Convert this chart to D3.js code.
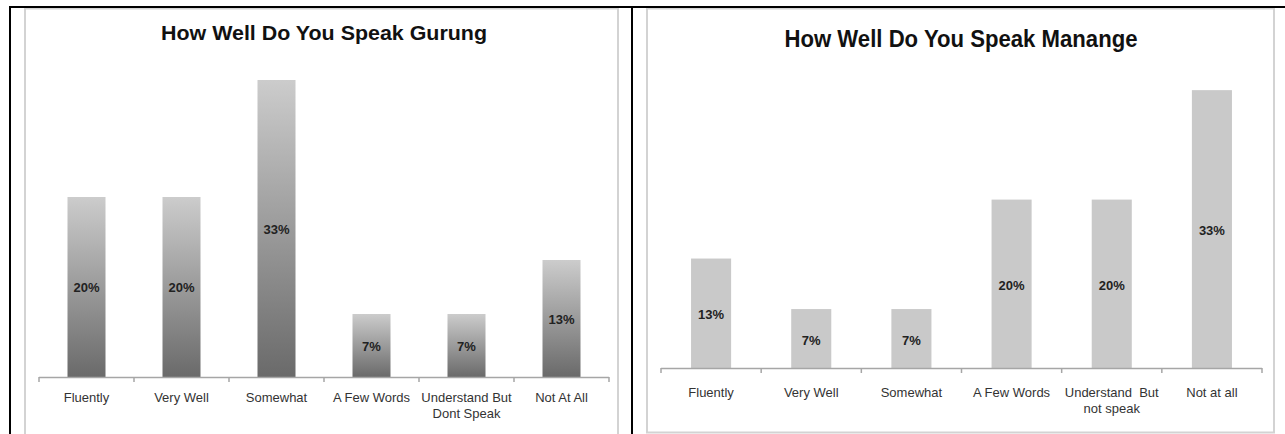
<!DOCTYPE html>
<html>
<head>
<meta charset="utf-8">
<script src="https://cdn.jsdelivr.net/npm/d3@7"></script>
<style>
  html, body { margin: 0; padding: 0; background: #fff; }
  svg { display: block; }
  text { font-family: Arial, "Liberation Sans", sans-serif; }
</style>
</head>
<body>
<svg id="chart" width="1285" height="434"></svg>
<script>
// ---- Data ----
const titleGurung = "How Well Do You Speak Gurung";
const categoriesGurung = ["Fluently", "Very Well", "Somewhat", "A Few Words", "Understand But\nDont Speak", "Not At All"];
const valuesGurung = [20, 20, 33, 7, 7, 13];
const labelsGurung = ["20%", "20%", "33%", "7%", "7%", "13%"];

const titleManange = "How Well Do You Speak Manange";
const categoriesManange = ["Fluently", "Very Well", "Somewhat", "A Few Words", "Understand  But\nnot speak", "Not at all"];
const valuesManange = [13, 7, 7, 20, 20, 33];
const labelsManange = ["13%", "7%", "7%", "20%", "20%", "33%"];

const yMax = 35;

// ---- Drawing ----
const svg = d3.select("#chart");
svg.append("rect").attr("width", 1285).attr("height", 434).attr("fill", "#fff");

const defs = svg.append("defs");
const grad = defs.append("linearGradient").attr("id", "barGrad")
  .attr("x1", 0).attr("y1", 0).attr("x2", 0).attr("y2", 1);
grad.append("stop").attr("offset", "0%").attr("stop-color", "#cccccc");
grad.append("stop").attr("offset", "100%").attr("stop-color", "#6a6a6a");

// Chart frames (light gray)
svg.append("rect").attr("x", 25).attr("y", 8.5).attr("width", 593).attr("height", 440)
  .attr("fill", "none").attr("stroke", "#d3d3d3").attr("stroke-width", 2);
svg.append("rect").attr("x", 647).attr("y", 8.5).attr("width", 627).attr("height", 424)
  .attr("fill", "none").attr("stroke", "#d3d3d3").attr("stroke-width", 2);

// Black table borders
svg.append("line").attr("x1", 9).attr("x2", 1285).attr("y1", 7).attr("y2", 7)
  .attr("stroke", "#000").attr("stroke-width", 2);
svg.append("line").attr("x1", 10).attr("x2", 10).attr("y1", 6).attr("y2", 434)
  .attr("stroke", "#000").attr("stroke-width", 2);
svg.append("line").attr("x1", 632).attr("x2", 632).attr("y1", 6).attr("y2", 434)
  .attr("stroke", "#000").attr("stroke-width", 2);

function drawChart(cfg) {
  const g = svg.append("g");
  const x = d3.scaleBand().domain(cfg.categories).range(cfg.xRange)
    .paddingInner(0.6).paddingOuter(0.3);
  const y = d3.scaleLinear().domain([0, yMax]).range(cfg.yRange);
  const step = x.step();
  const gap = (step - x.bandwidth()) / 2;

  // title
  g.append("text")
    .attr("x", cfg.titleX).attr("y", cfg.titleY)
    .attr("text-anchor", "middle")
    .attr("font-size", cfg.titleSize).attr("font-weight", "bold")
    .attr("fill", "#111")
    .attr("textLength", cfg.titleLen).attr("lengthAdjust", "spacingAndGlyphs")
    .text(cfg.title);

  // bars
  g.selectAll("rect.bar").data(cfg.values).join("rect")
    .attr("class", "bar")
    .attr("x", (d, i) => x(cfg.categories[i]))
    .attr("width", x.bandwidth())
    .attr("y", d => y(d))
    .attr("height", d => y(0) - y(d))
    .attr("fill", cfg.fill);

  // value labels
  g.selectAll("text.val").data(cfg.values).join("text")
    .attr("class", "val")
    .attr("x", (d, i) => x(cfg.categories[i]) + x.bandwidth() / 2)
    .attr("y", d => (y(d) + y(0)) / 2 + cfg.valDy)
    .attr("text-anchor", "middle")
    .attr("font-size", 13).attr("font-weight", "bold")
    .attr("fill", "#222")
    .text((d, i) => cfg.labels[i]);

  // axis line + ticks between categories
  const y0 = y(0);
  g.append("line").attr("x1", cfg.xRange[0]).attr("x2", cfg.xRange[1])
    .attr("y1", y0 + 0.5).attr("y2", y0 + 0.5)
    .attr("stroke", "#a6a6a6").attr("stroke-width", 1.5);
  const tickXs = cfg.categories.map(c => x(c) - gap).concat([cfg.xRange[1]]);
  g.selectAll("line.tick").data(tickXs).join("line")
    .attr("class", "tick")
    .attr("x1", d => d).attr("x2", d => d)
    .attr("y1", y0).attr("y2", y0 + 5)
    .attr("stroke", "#a6a6a6").attr("stroke-width", 1.5);

  // category labels
  cfg.categories.forEach(c => {
    const lines = c.split("\n");
    const t = g.append("text")
      .attr("x", x(c) + x.bandwidth() / 2)
      .attr("y", cfg.labelY)
      .attr("text-anchor", "middle")
      .attr("font-size", 13)
      .attr("fill", "#333")
      .style("white-space", "pre");
    lines.forEach((ln, k) => {
      t.append("tspan").attr("x", x(c) + x.bandwidth() / 2)
        .attr("dy", k === 0 ? 0 : cfg.lineH).text(ln);
    });
  });
}

drawChart({
  title: titleGurung, categories: categoriesGurung, values: valuesGurung, labels: labelsGurung,
  xRange: [39, 609], yRange: [377, 62], fill: "url(#barGrad)",
  titleX: 324, titleY: 40, titleSize: 21, titleLen: 326,
  labelY: 402, lineH: 16, valDy: 5
});

drawChart({
  title: titleManange, categories: categoriesManange, values: valuesManange, labels: labelsManange,
  xRange: [661, 1262], yRange: [368, 73.3], fill: "#c9c9c9",
  titleX: 961, titleY: 47, titleSize: 24, titleLen: 353,
  labelY: 397, lineH: 16, valDy: 6
});
</script>
</body>
</html>
